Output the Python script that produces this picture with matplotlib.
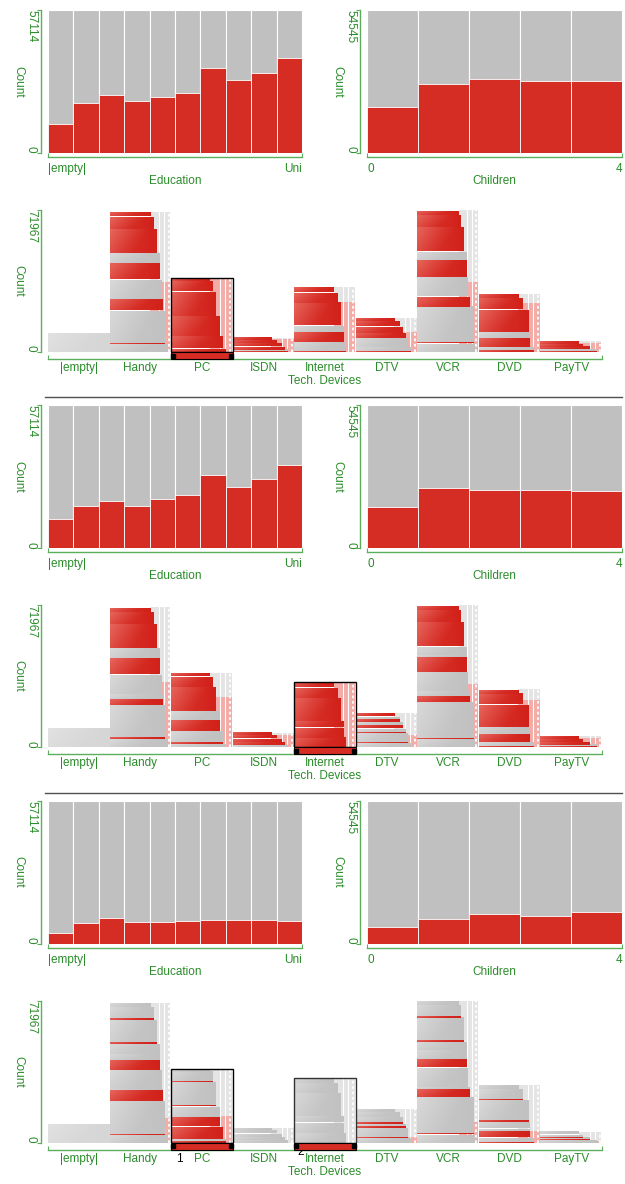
import numpy as np
import matplotlib
matplotlib.use("Agg")
import matplotlib.pyplot as plt
from matplotlib.colors import to_rgb
from matplotlib.patches import Rectangle
from matplotlib.lines import Line2D

W, H = 625, 1184
GREEN = "#2a8c2a"
AXIS_GREEN = "#5cae5c"
RED = "#d52c24"
GREY = "#c0c0c0"
PALE = "#e4e4e4"
PINK = "#f3aca7"

plt.rcParams["font.family"] = ["Liberation Sans", "DejaVu Sans"]
plt.rcParams["font.size"] = 8.5

# ---- Education (10 bins) : full bins + highlighted counts per selection
edu_max = 57114
edu_ends = ["|empty|", "Uni"]
edu_total = [edu_max] * 10
edu_red = [
    [11765, 19990, 23074, 20675, 22446, 23874, 33869, 29071, 31870, 38038],
    [11651, 16906, 18905, 16906, 19704, 21304, 29357, 24559, 27757, 33412],
    [4398, 8224, 10109, 8624, 8624, 8910, 9538, 9310, 9538, 9024],
]

# ---- Children (0..4)
kids_max = 54545
kids_ends = ["0", "4"]
kids_total = [kids_max] * 5
kids_red = [
    [17727, 26400, 28145, 27273, 27545],
    [15764, 23073, 22254, 22254, 21873],
    [6218, 9382, 11182, 10527, 12164],
]

# ---- Tech. Devices
tech_max = 71967
devices = ["|empty|", "Handy", "PC", "ISDN", "Internet", "DTV", "VCR", "DVD", "PayTV"]
device_totals = [9140, 70960, 37420, 7200, 32960, 17270, 71967, 29360, 5540]

# sub-groups of every device, bottom -> top: share of the bar and relative width
strip_shares = {
    "Handy": [0.057, 0.243, 0.082, 0.139, 0.115, 0.071, 0.172, 0.089, 0.032],
    "PC": [0.05, 0.17, 0.27, 0.33, 0.14, 0.04],
    "ISDN": [0.15, 0.25, 0.25, 0.20, 0.15],
    "Internet": [0.15, 0.16, 0.10, 0.35, 0.16, 0.08],
    "DTV": [0.14, 0.28, 0.14, 0.19, 0.16, 0.09],
    "VCR": [0.06, 0.26, 0.075, 0.135, 0.12, 0.06, 0.17, 0.088, 0.032],
    "DVD": [0.09, 0.16, 0.10, 0.39, 0.185, 0.075],
    "PayTV": [0.25, 0.20, 0.30, 0.25],
}
strip_widths = {
    "Handy": [0.91, 0.88, 0.86, 0.83, 0.80, 0.80, 0.75, 0.70, 0.65],
    "PC": [0.88, 0.84, 0.79, 0.73, 0.68, 0.63],
    "ISDN": [0.88, 0.83, 0.78, 0.70, 0.62],
    "Internet": [0.84, 0.81, 0.81, 0.76, 0.70, 0.64],
    "DTV": [0.89, 0.84, 0.81, 0.76, 0.71, 0.62],
    "VCR": [0.94, 0.91, 0.85, 0.82, 0.80, 0.80, 0.76, 0.71, 0.67],
    "DVD": [0.88, 0.82, 0.82, 0.80, 0.71, 0.64],
    "PayTV": [0.91, 0.80, 0.69, 0.62],
}
# highlighted fraction of each sub-group, one dict per selection
strip_hl = [
    {
        "Handy": [0, 0.04, 1, 0, 1, 0, 1, 1, 1],
        "PC": [1, 1, 1, 1, 1, 1],
        "ISDN": [0.3, 1, 1, 1, 1],
        "Internet": [0.1, 1, 0, 1, 1, 1],
        "DTV": [0.15, 0, 1, 1, 1, 1],
        "VCR": [0, 0.03, 1, 0, 1, 0, 1, 1, 1],
        "DVD": [0.4, 1, 0, 1, 1, 1],
        "PayTV": [0.3, 1, 1, 1],
    },
    {
        "Handy": [0, 0.06, 0.55, 0, 1, 0, 1, 1, 1],
        "PC": [0, 0.12, 0.55, 1, 1, 1],
        "ISDN": [0.3, 1, 1, 1, 1],
        "Internet": [1, 1, 1, 1, 1, 1],
        "DTV": [0.1, 0.05, 0.3, 0.6, 0.6, 1],
        "VCR": [0, 0.03, 0.55, 0, 0.9, 0, 1, 1, 1],
        "DVD": [0.3, 0.9, 0, 1, 1, 1],
        "PayTV": [0.3, 1, 1, 1],
    },
    {
        "Handy": [0, 0.03, 0.95, 0, 0.65, 0, 0.06, 0.1, 0],
        "PC": [0.6, 1, 0.5, 0.06, 0.06, 0],
        "ISDN": [0, 0, 0, 0, 0],
        "Internet": [0, 0, 0, 0, 0, 0],
        "DTV": [0, 0.05, 0.6, 0.3, 0, 0],
        "VCR": [0, 0.03, 0.8, 0, 0.5, 0, 0.06, 0.1, 0],
        "DVD": [0.2, 0.8, 0, 0.1, 0.1, 0],
        "PayTV": [0, 0.4, 0.3, 0],
    },
]
selected = [["PC"], ["Internet"], ["PC", "Internet"]]
sel_marks = [[], [], ["1", "2"]]

group_dy = [0, 395.3, 790.6]


def shade(base, light, nx=40, ny=10):
    xx, yy = np.meshgrid(np.linspace(0, 1, nx), np.linspace(0, 1, ny))
    t = 0.6 * np.clip(1 - 1.2 * xx - 0.35 * yy, 0, 1) ** 1.2 - 0.12 * xx ** 3
    b = np.array(to_rgb(base))
    l = np.array(to_rgb(light))
    return np.clip(b + (l - b) * t[..., None], 0, 1)


red_img = shade(RED, "#f28b82")
grey_img = shade("#c5c5c5", "#e6e6e6")
empty_img = shade("#d8d8d8", "#e8e8e8")


def px_axes(fig, left, top, right, bottom):
    return fig.add_axes([left / W, 1 - bottom / H, (right - left) / W, (bottom - top) / H])


def style_axes(ax, xmax, ymax, out_x):
    ax.set_xlim(0, xmax)
    ax.set_ylim(0, ymax)
    ax.patch.set_visible(False)
    for s in ("top", "right"):
        ax.spines[s].set_visible(False)
    ax.spines["left"].set_position(("outward", 5))
    ax.spines["bottom"].set_position(("outward", out_x))
    for s in ("left", "bottom"):
        ax.spines[s].set_color(AXIS_GREEN)
        ax.spines[s].set_linewidth(1)
    ax.set_xticks([0, xmax])
    ax.set_yticks([0, ymax])
    ax.tick_params(axis="x", direction="in", length=3, color=AXIS_GREEN, labelbottom=False)
    ax.tick_params(axis="y", direction="out", length=3, color=AXIS_GREEN, labelleft=False)
    kw = dict(xycoords="axes fraction", textcoords="offset pixels", rotation=270, color=GREEN)
    ax.annotate(str(ymax), xy=(0, 1), xytext=(-17, 0), ha="center", va="top", **kw)
    ax.annotate("0", xy=(0, 0), xytext=(-17, 0), ha="center", va="bottom", **kw)
    ax.annotate("Count", xy=(0, 0.5), xytext=(-30, 0), ha="center", va="center", **kw)


def bin_panel(ax, totals, red, ymax, ends, title):
    x = np.arange(len(totals))
    ax.bar(x, totals, width=1, align="edge", color=GREY, edgecolor="white", linewidth=0.8)
    ax.bar(x, red, width=1, align="edge", color=RED, edgecolor="white", linewidth=0.6)
    style_axes(ax, len(totals), ymax, 3)
    kw = dict(xycoords=("data", "axes fraction"), textcoords="offset pixels", va="center", color=GREEN)
    ax.annotate(ends[0], xy=(0, 0), xytext=(0, -16), ha="left", **kw)
    ax.annotate(ends[1], xy=(len(totals), 0), xytext=(0, -16), ha="right", **kw)
    ax.annotate(title, xy=(0.5, 0), xycoords="axes fraction", xytext=(0, -28),
                textcoords="offset pixels", ha="center", va="center", color=GREEN)


def tech_panel(ax, g):
    cpp = tech_max / 142.0  # counts per pixel
    for i, name in enumerate(devices):
        total = device_totals[i]
        if name not in strip_shares:
            ax.imshow(empty_img, extent=(i, i + 1, 0, total), aspect="auto",
                      interpolation="bilinear", zorder=2)
            continue
        shares = np.array(strip_shares[name], dtype=float)
        heights = shares / shares.sum() * total
        widths = strip_widths[name]
        hl = np.array(strip_hl[g][name], dtype=float)
        frac = (heights * hl).sum() / total

        # pale column behind the sub-groups
        x0 = i + min(widths)
        ax.add_patch(Rectangle((x0, 0), i + 0.99 - x0, total, fc=PALE, lw=0, zorder=1))
        ax.add_patch(Rectangle((x0, 0), i + 0.99 - x0, frac * total, fc=PINK, lw=0, zorder=1.1))
        for fx in (0.8, 0.88):
            if i + fx > x0:
                ax.plot([i + fx] * 2, [0, total], color="white", lw=0.8, zorder=1.5)
        ax.plot([i + 0.96] * 2, [0, total], color="white", lw=1.3,
                ls=(0, (1.5, 1.5)), zorder=1.5)

        y = 0.0
        for h, w, f in zip(heights, widths, hl):
            gap = 0.7 * cpp if h > 3 * cpp else 0.0
            top = y + h - gap
            mid = y + f * (h - gap)
            if f > 0:
                ax.imshow(red_img, extent=(i, i + w, y, mid), aspect="auto",
                          interpolation="bilinear", zorder=2)
            if f < 1:
                ax.imshow(grey_img, extent=(i, i + w, mid, top), aspect="auto",
                          interpolation="bilinear", zorder=2)
            y += h

    for k, name in enumerate(selected[g]):
        i = devices.index(name)
        ec = "black" if k == 0 else "#333333"
        ax.add_patch(Rectangle((i, 0), 1, device_totals[i], fill=False, ec=ec, lw=1, zorder=6))
        ax.add_patch(Rectangle((i, -7 * cpp), 1, 7 * cpp, fc=RED, ec="black", lw=0.8,
                               clip_on=False, zorder=6))
        ax.plot([i + 0.03, i + 0.97], [-3.5 * cpp] * 2, "s", ms=3, color="black",
                clip_on=False, zorder=7)
        if sel_marks[g]:
            off = (5, -16) if k == 0 else (3, -9)
            ax.annotate(sel_marks[g][k], xy=(i, 0), xycoords=("data", "axes fraction"),
                        xytext=off, textcoords="offset pixels", ha="left", va="center",
                        color="black")

    style_axes(ax, len(devices), tech_max, 5)
    ax.set_xlim(0, len(devices))
    ax.set_ylim(0, tech_max)
    for i, name in enumerate(devices):
        ax.annotate(name, xy=(i + 0.5, 0), xycoords=("data", "axes fraction"), xytext=(0, -16),
                    textcoords="offset pixels", ha="center", va="center", color=GREEN)
    ax.annotate("Tech. Devices", xy=(0.5, 0), xycoords="axes fraction", xytext=(0, -29),
                textcoords="offset pixels", ha="center", va="center", color=GREEN)


fig = plt.figure(figsize=(W / 100, H / 100), dpi=100)

for g, dy in enumerate(group_dy):
    ax_edu = px_axes(fig, 48, 10 + dy, 302, 153 + dy)
    bin_panel(ax_edu, edu_total, edu_red[g], edu_max, edu_ends, "Education")
    ax_kids = px_axes(fig, 367, 10 + dy, 622, 153 + dy)
    bin_panel(ax_kids, kids_total, kids_red[g], kids_max, kids_ends, "Children")
    ax_tech = px_axes(fig, 48, 210 + dy, 602, 352 + dy)
    tech_panel(ax_tech, g)

for y in (397, 792.5):
    fig.add_artist(Line2D([45 / W, 622 / W], [1 - y / H] * 2, color="#505050", lw=1))

fig.savefig("out.png", dpi=100)
